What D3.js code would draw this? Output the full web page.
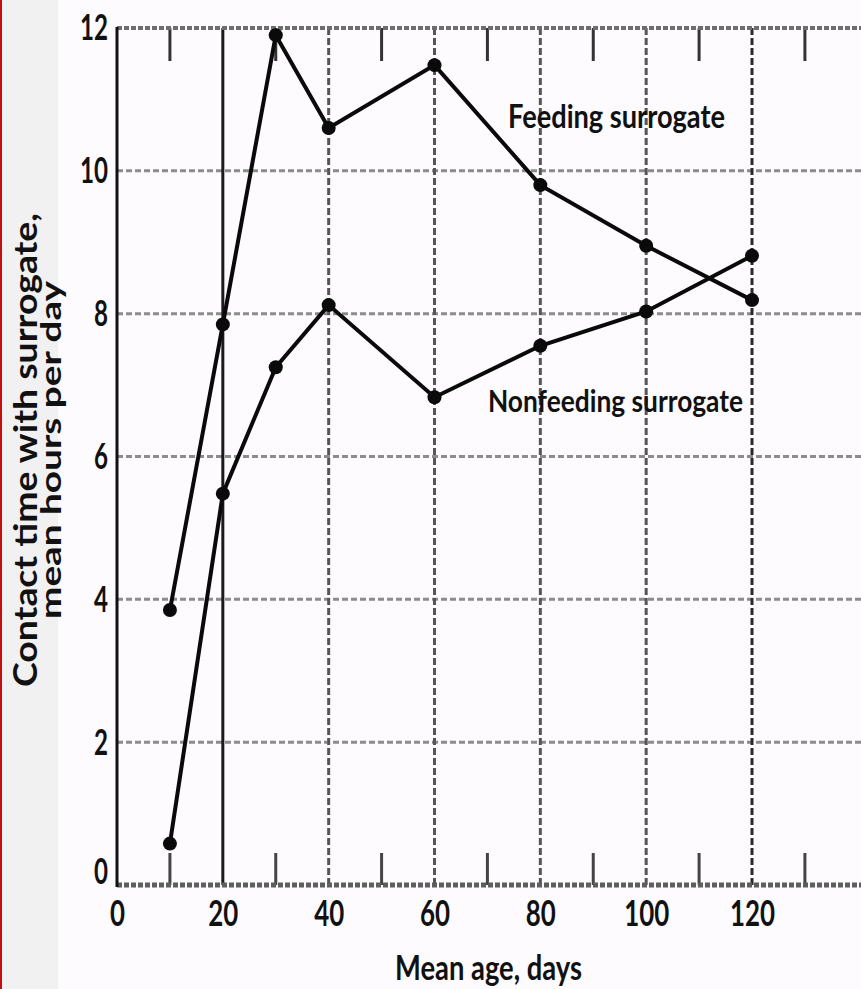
<!DOCTYPE html>
<html>
<head>
<meta charset="utf-8">
<script src="https://cdn.jsdelivr.net/npm/d3@7"></script>
<style>
  html, body { margin: 0; padding: 0; background: #fdfbfd; }
  svg { display: block; }
  text { font-family: Lato, "Open Sans", sans-serif; fill: #111; }
</style>
</head>
<body>
<svg id="chart" width="861" height="989"></svg>
<script>
// Data
const AGES = [10, 20, 30, 40, 60, 80, 100, 120];
const FEEDING = [3.85, 7.85, 11.9, 10.6, 11.48, 9.8, 8.95, 8.19];
const NONFEEDING = [0.58, 5.48, 7.25, 8.12, 6.83, 7.55, 8.03, 8.81];
const X_TICKS = [0, 20, 40, 60, 80, 100, 120];
const X_MINOR = [10, 30, 50, 70, 90, 110, 130];
const Y_TICKS = [0, 2, 4, 6, 8, 10, 12];

const W = 861;
const H = 989;

const svg = d3.select('#chart');

const x = d3.scaleLinear().domain([0, 120]).range([117, 752]);
const y = d3.scaleLinear().domain([0, 12]).range([885, 28]);

// Paper background bits
svg.append('rect')
    .attr('x', 0).attr('y', 0)
    .attr('width', 58).attr('height', H)
    .attr('fill', '#f2f1f2');
svg.append('rect')
    .attr('x', 0).attr('y', 0)
    .attr('width', 2).attr('height', H)
    .attr('fill', '#c01010');

const grid = svg.append('g').attr('class', 'grid');

// Horizontal grid lines
grid.selectAll('line.h')
  .data(Y_TICKS.filter(v => v > 0 && v < 12))
  .join('line')
    .attr('class', 'h')
    .attr('x1', x(0)).attr('x2', W)
    .attr('y1', d => y(d)).attr('y2', d => y(d))
    .attr('stroke', '#8c8c8c')
    .attr('stroke-width', 3)
    .attr('stroke-dasharray', '6 3');

// Vertical grid lines
grid.selectAll('line.v')
  .data(X_TICKS.filter(v => v > 0))
  .join('line')
    .attr('class', 'v')
    .attr('x1', d => x(d)).attr('x2', d => x(d))
    .attr('y1', y(12)).attr('y2', y(0))
    .attr('stroke', d => (d === 20 ? '#1a1a1a' : d === 120 ? '#2a2a2a' : '#555'))
    .attr('stroke-width', 3)
    .attr('stroke-dasharray', d => (d === 20 ? null : '7 3'));

// Minor ticks, top and bottom
grid.selectAll('line.mt')
  .data(X_MINOR)
  .join('line')
    .attr('class', 'mt')
    .attr('x1', d => x(d)).attr('x2', d => x(d))
    .attr('y1', y(12)).attr('y2', y(12) + 33)
    .attr('stroke', '#333')
    .attr('stroke-width', 3);
grid.selectAll('line.mb')
  .data(X_MINOR)
  .join('line')
    .attr('class', 'mb')
    .attr('x1', d => x(d)).attr('x2', d => x(d))
    .attr('y1', y(0) - 32).attr('y2', y(0))
    .attr('stroke', '#444')
    .attr('stroke-width', 3);

// Frame: top, bottom, left
svg.append('line')
    .attr('x1', x(0)).attr('x2', W)
    .attr('y1', y(12)).attr('y2', y(12))
    .attr('stroke', '#6e6e6e')
    .attr('stroke-width', 4)
    .attr('stroke-dasharray', '5 2');
svg.append('line')
    .attr('x1', x(0)).attr('x2', W)
    .attr('y1', y(0)).attr('y2', y(0))
    .attr('stroke', '#5e5e5e')
    .attr('stroke-width', 5)
    .attr('stroke-dasharray', '5 2');
svg.append('line')
    .attr('x1', x(0)).attr('x2', x(0))
    .attr('y1', y(12) - 1).attr('y2', y(0) + 2)
    .attr('stroke', '#111')
    .attr('stroke-width', 3);

// Tick labels through d3 axes
const xAxis = svg.append('g')
    .attr('transform', `translate(0,${y(0)})`)
    .call(d3.axisBottom(x).tickValues(X_TICKS).tickSize(0).tickPadding(0));
xAxis.select('.domain').remove();
xAxis.selectAll('text')
    .attr('y', 41)
    .attr('dy', 0)
    .attr('font-size', 37)
    .attr('font-weight', 'bold')
    .attr('font-family', 'Lato, sans-serif')
    .attr('fill', '#111')
    .attr('textLength', d => String(d).length * 15)
    .attr('lengthAdjust', 'spacingAndGlyphs');

const yAxis = svg.append('g')
    .attr('transform', `translate(${x(0)},0)`)
    .call(d3.axisLeft(y).tickValues(Y_TICKS).tickSize(0).tickPadding(9));
yAxis.select('.domain').remove();
yAxis.selectAll('text')
    .attr('dy', d => (d === 0 ? '-0.05em' : '0.32em'))
    .attr('font-size', 37)
    .attr('font-weight', 'bold')
    .attr('font-family', 'Lato, sans-serif')
    .attr('fill', '#111')
    .attr('textLength', d => String(d).length * 14)
    .attr('lengthAdjust', 'spacingAndGlyphs');

// Series
const line = d3.line()
    .x(d => x(d[0]))
    .y(d => y(d[1]));

const series = [
  AGES.map((a, i) => [a, FEEDING[i]]),
  AGES.map((a, i) => [a, NONFEEDING[i]])
];

svg.selectAll('path.series')
  .data(series)
  .join('path')
    .attr('class', 'series')
    .attr('d', line)
    .attr('fill', 'none')
    .attr('stroke', '#0a0a0a')
    .attr('stroke-width', 4)
    .attr('stroke-linejoin', 'miter');

svg.selectAll('g.pts')
  .data(series)
  .join('g')
    .attr('class', 'pts')
  .selectAll('circle')
  .data(d => d)
  .join('circle')
    .attr('cx', d => x(d[0]))
    .attr('cy', d => y(d[1]))
    .attr('r', 7)
    .attr('fill', '#0a0a0a');

// Annotations
svg.append('text')
    .attr('x', 508).attr('y', 128)
    .attr('font-size', 33)
    .attr('font-weight', 'bold')
    .attr('textLength', 217)
    .attr('lengthAdjust', 'spacingAndGlyphs')
    .text('Feeding surrogate');
svg.append('text')
    .attr('x', 488).attr('y', 412)
    .attr('font-size', 31)
    .attr('font-weight', 'bold')
    .attr('textLength', 255)
    .attr('lengthAdjust', 'spacingAndGlyphs')
    .text('Nonfeeding surrogate');

// Axis titles
svg.append('text')
    .attr('x', 395).attr('y', 980)
    .attr('font-size', 34)
    .attr('font-weight', 'bold')
    .attr('textLength', 187)
    .attr('lengthAdjust', 'spacingAndGlyphs')
    .text('Mean age, days');

svg.append('text')
    .attr('transform', 'translate(37,450) rotate(-90)')
    .attr('text-anchor', 'middle')
    .attr('font-size', 32)
    .attr('font-weight', 'bold')
    .attr('textLength', 474)
    .attr('lengthAdjust', 'spacingAndGlyphs')
    .text('Contact time with surrogate,');
svg.append('text')
    .attr('transform', 'translate(61,450) rotate(-90)')
    .attr('text-anchor', 'middle')
    .attr('font-size', 29)
    .attr('font-weight', 'bold')
    .attr('textLength', 338)
    .attr('lengthAdjust', 'spacingAndGlyphs')
    .text('mean hours per day');
</script>
</body>
</html>
